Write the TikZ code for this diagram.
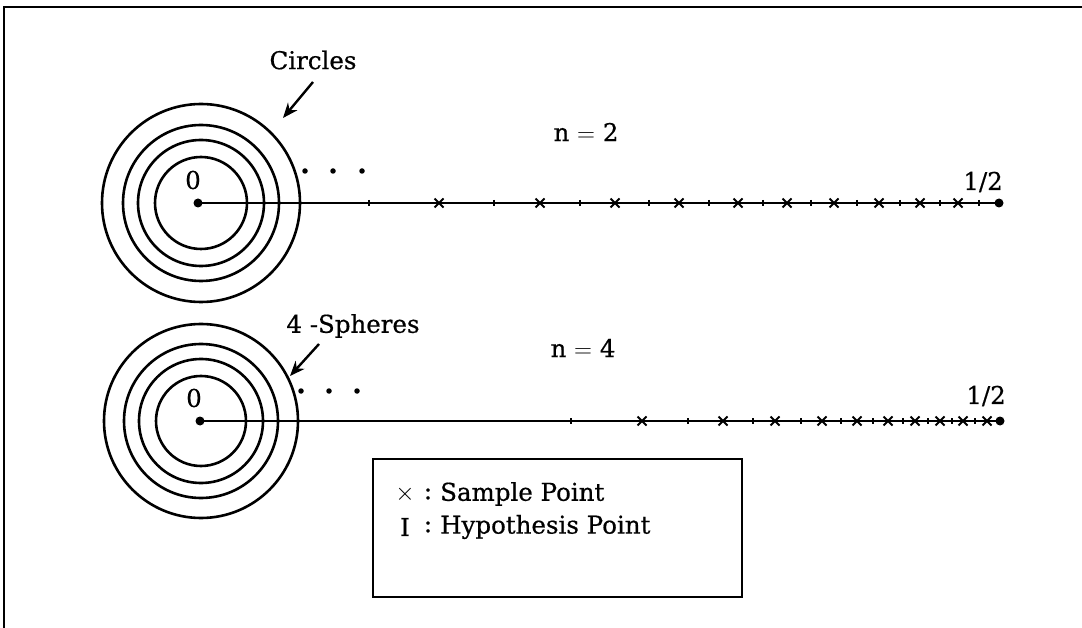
\documentclass[tikz,border=0pt]{standalone}
\usepackage{fontspec}
\setmainfont{DejaVu Serif}[FakeBold=0.6]
\usetikzlibrary{arrows.meta}
\begin{document}
\begin{tikzpicture}[x=1pt,y=-1pt,
  ring/.style={line width=2.6pt},
  axis/.style={line width=2.4pt},
  enddot/.style={circle,fill=black,inner sep=0pt,minimum size=9pt},
  smalldot/.style={circle,fill=black,inner sep=0pt,minimum size=5.5pt},
  lbl/.style={font=\fontsize{24.5}{29}\selectfont,inner sep=0pt},
  pointer/.style={line width=2.4pt,-{Stealth[length=15pt,width=12pt]}},
  samp/.style={line width=2pt},
  hyp/.style={line width=2.4pt},
  frameline/.style={line width=2.4pt},
  legendbox/.style={draw,line width=2.6pt,minimum width=369pt,minimum height=138pt,inner sep=0pt}]
\useasboundingbox (0,0) rectangle (1082,628);
\fill[white] (0,0) rectangle (1082,628);
% frame
\coordinate (fl) at (4,628);
\coordinate (fc) at (4,7);
\coordinate (fr) at (1082,7);
\draw[frameline] (fl) -- (fc) -- (fr);

% ---------- top diagram ----------
\coordinate (c1) at (201,203);
\foreach \r in {99,78,63,46} \draw[ring] (c1) circle[radius=\r pt];
\node[enddot] (o1) at (198,203) {};
\node[enddot] (h1) at (999,203) {};
\draw[axis] (o1.center) -- (h1.center);
\foreach \x in {369,494,580,649,709,763,811,857,900,940,979}
  \draw[hyp] (\x,200) -- (\x,206);
\foreach \x in {439,540,615,679,738,787,834,879,920,958}
  \draw[samp] (\x-4.5,198.5) -- (\x+4.5,207.5) (\x-4.5,207.5) -- (\x+4.5,198.5);
\node[lbl] (z1) at (193,180) {0};
\node[lbl,anchor=east] (half1) at (1003,182) {1/2};
\node[lbl] (n2) at (586,132) {n $=$ 2};
\node[smalldot] (d11) at (305,171) {};
\node[smalldot] (d12) at (333,171) {};
\node[smalldot] (d13) at (362,171) {};
\node[lbl] (circ) at (313,60) {Circles};
\coordinate (a1s) at (313,82);
\coordinate (a1e) at (283,118);
\draw[pointer] (a1s) -- (a1e);

% ---------- bottom diagram ----------
\coordinate (c2) at (201,421);
\foreach \r in {97,77,62,45} \draw[ring] (c2) circle[radius=\r pt];
\node[enddot] (o2) at (200,421) {};
\node[enddot] (h2) at (1000,421) {};
\draw[axis] (o2.center) -- (h2.center);
\foreach \x in {571,688,753,801,841,873,903,928,952,975}
  \draw[hyp] (\x,418) -- (\x,424);
\foreach \x in {642,723,775,822,857,888,915,940,963,987}
  \draw[samp] (\x-4.5,416.5) -- (\x+4.5,425.5) (\x-4.5,425.5) -- (\x+4.5,416.5);
\node[lbl] (z2) at (194,398) {0};
\node[lbl,anchor=east] (half2) at (1006,396) {1/2};
\node[lbl] (n4) at (583,348) {n $=$ 4};
\node[smalldot] (d21) at (301,391) {};
\node[smalldot] (d22) at (329,391) {};
\node[smalldot] (d23) at (357,391) {};
\node[lbl] (sph) at (353,326) {4 -Spheres};
\coordinate (a2s) at (319,344);
\coordinate (a2e) at (290,376);
\draw[pointer] (a2s) -- (a2e);

% ---------- legend ----------
\node[legendbox] (leg) at (557.5,528) {};
\node[lbl,font=\fontsize{30}{34}\selectfont] (sx) at (405,494) {$\times$};
\node[lbl] (sc) at (428,494) {:};
\node[lbl,anchor=west] (st) at (440,494) {Sample Point};
\node[lbl] (hx) at (405,527) {I};
\node[lbl] (hc) at (428,527) {:};
\node[lbl,anchor=west] (ht) at (440,527) {Hypothesis Point};
\end{tikzpicture}
\end{document}
